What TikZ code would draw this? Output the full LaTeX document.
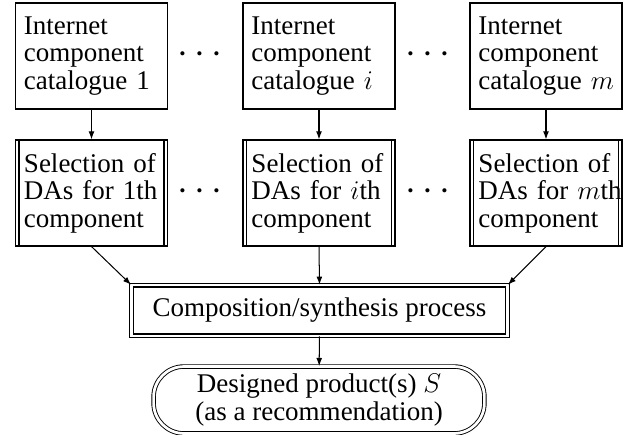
\documentclass[tikz,border=0pt]{standalone}
\usepackage{fontspec}
\setmainfont{Liberation Serif}
\usetikzlibrary{arrows.meta,positioning}
\tikzset{every node/.append style={align=left}}

\begin{document}
\begin{tikzpicture}[x=0.4444pt, y=-0.4444pt, font=\fontsize{12}{12.2}\selectfont,
    catbox/.style={draw, line width=0.6pt, minimum width=67.5pt, minimum height=47pt, text width=60pt, inner sep=3.5pt},
    selbox/.style={catbox, path picture={
        \draw[line width=0.6pt] ([xshift=1.5pt]path picture bounding box.north west) -- ([xshift=1.5pt]path picture bounding box.south west);
        \draw[line width=0.6pt] ([xshift=-1.5pt]path picture bounding box.north east) -- ([xshift=-1.5pt]path picture bounding box.south east);}},
    procbox/.style={draw, double, line width=0.5pt, double distance=1pt, minimum width=167pt, minimum height=22.4pt, align=center},
    outbox/.style={draw, double, line width=0.4pt, double distance=1.2pt, rounded corners=13.5pt, minimum width=147pt, minimum height=27pt, align=center},
    dots/.style={font=\fontsize{17}{17}\selectfont, inner sep=0pt},
    flow/.style={-{Latex[length=3.6pt,width=2.6pt]}, line width=0.45pt}]
    \useasboundingbox (0,0) rectangle (628,434);

    % Catalogues
    \node[catbox] (cat1) at (91.5, 56) {Internet\\component\\catalogue~1};
    \node[catbox] (cati) at (319, 56) {Internet\\component\\catalogue~$i$};
    \node[catbox] (catm) at (546, 56) {Internet\\component\\catalogue~$m$};
    \node[dots] (d1) at (200, 55) {$\cdots$};
    \node[dots] (d2) at (428, 55) {$\cdots$};

    % Selection of DAs
    \node[selbox] (sel1) at (91.5, 193) {Selection~of\\DAs~for~1th\\component};
    \node[selbox] (seli) at (319, 193) {Selection~of\\DAs~for~$i$th\\component};
    \node[selbox] (selm) at (546, 193) {Selection~of\\DAs~for~$m$th\\component};
    \node[dots] (d3) at (200, 192) {$\cdots$};
    \node[dots] (d4) at (428, 192) {$\cdots$};

    % Composition and result
    \node[procbox] (comp) at (319.5, 310.5) {Composition/synthesis process};
    \node[outbox] (prod) at (319, 400) {Designed product(s) $S$\\(as a recommendation)};

    % Flows
    \draw[flow] (cat1) -- (sel1);
    \draw[flow] (cati) -- (seli);
    \draw[flow] (catm) -- (selm);
    \draw[flow] (sel1.south) -- (comp.north west);
    \draw[flow] (seli.south) -- (comp.north);
    \draw[flow] (selm.south) -- (comp.north east);
    \draw[flow] (comp) -- (prod);
\end{tikzpicture}
\end{document}
